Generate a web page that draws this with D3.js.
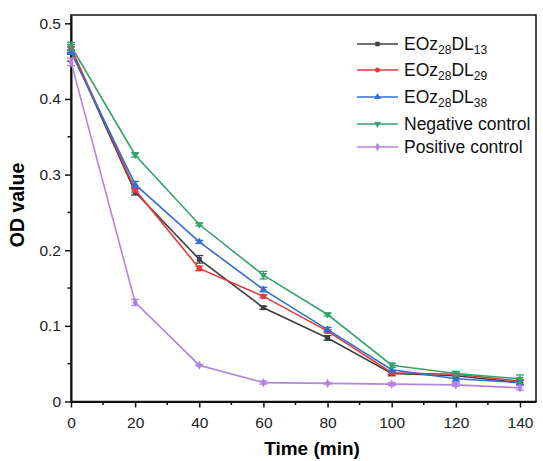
<!DOCTYPE html>
<html lang="en">
<head>
    <meta charset="UTF-8">
    <title>OD value vs time</title>
    <script src="https://d3js.org/d3.v7.min.js"></script>
    <style>
        body {
            margin: 0;
            padding: 0;
            background: #fff;
            font-family: Arial, "Liberation Sans", sans-serif;
        }
        .axis text {
            font-size: 15.5px;
            fill: #222;
        }
        .axis path, .axis line {
            stroke: #111;
        }
    </style>
</head>
<body>
    <svg id="chart" width="543" height="461"></svg>

    <script>
        // time points (min)
        const times = [0, 20, 40, 60, 80, 100, 120, 140];

        // series names and sub-scripted parts for legend
        const seriesNames = ["EOz28DL13", "EOz28DL29", "EOz28DL38", "Negative control", "Positive control"];

        // OD values
        const dl13 = [0.465, 0.277, 0.188, 0.124, 0.084, 0.037, 0.034, 0.025];
        const dl29 = [0.468, 0.280, 0.176, 0.139, 0.093, 0.038, 0.036, 0.027];
        const dl38 = [0.462, 0.287, 0.211, 0.148, 0.095, 0.042, 0.030, 0.025];
        const negCtrl = [0.470, 0.326, 0.234, 0.167, 0.115, 0.048, 0.037, 0.030];
        const posCtrl = [0.449, 0.131, 0.048, 0.025, 0.024, 0.023, 0.022, 0.018];

        // error bars (half length)
        const dl13Err = [0.004, 0.004, 0.005, 0.002, 0.003, 0.003, 0.003, 0.003];
        const dl29Err = [0.004, 0.003, 0.003, 0.002, 0.002, 0.002, 0.002, 0.002];
        const dl38Err = [0.003, 0.004, 0.002, 0.003, 0.003, 0.003, 0.004, 0.003];
        const negErr = [0.005, 0.003, 0.002, 0.005, 0.002, 0.003, 0.003, 0.005];
        const posErr = [0.005, 0.004, 0.001, 0.002, 0.001, 0.002, 0.002, 0.003];

        const xTicks = [0, 20, 40, 60, 80, 100, 120, 140];
        const yTicks = [0, 0.1, 0.2, 0.3, 0.4, 0.5];

        const colors = ["#404040", "#e23b3b", "#2f6fd6", "#33a36a", "#b482e2"];
        const symbols = [d3.symbolSquare, d3.symbolCircle, d3.symbolTriangle, d3.symbolTriangle, d3.symbolDiamond];
        const flips = [false, false, false, true, false];

        const series = [
            { vals: dl13, err: dl13Err },
            { vals: dl29, err: dl29Err },
            { vals: dl38, err: dl38Err },
            { vals: negCtrl, err: negErr },
            { vals: posCtrl, err: posErr }
        ];

        const svg = d3.select("#chart");

        const x = d3.scaleLinear().domain([0, 145]).range([71, 536]);
        const y = d3.scaleLinear().domain([0, 0.511]).range([401.5, 15]);

        // frame (top + right)
        svg.append("rect")
            .attr("x", x(0)).attr("y", y(0.511))
            .attr("width", x(145) - x(0)).attr("height", y(0) - y(0.511))
            .attr("fill", "none").attr("stroke", "#111").attr("stroke-width", 1.5);

        // minor ticks
        const xMinor = d3.range(10, 145, 20);
        const yMinor = d3.range(0.05, 0.51, 0.1);
        svg.append("g").selectAll("line").data(xMinor).join("line")
            .attr("x1", d => x(d)).attr("x2", d => x(d))
            .attr("y1", y(0)).attr("y2", y(0) + 3.5)
            .attr("stroke", "#111").attr("stroke-width", 1.5);
        svg.append("g").selectAll("line").data(yMinor).join("line")
            .attr("y1", d => y(d)).attr("y2", d => y(d))
            .attr("x1", x(0)).attr("x2", x(0) - 3.5)
            .attr("stroke", "#111").attr("stroke-width", 1.5);

        const xAxis = svg.append("g")
            .attr("class", "axis")
            .attr("transform", `translate(0,${y(0)})`)
            .call(d3.axisBottom(x).tickValues(xTicks).tickSize(6).tickPadding(6).tickSizeOuter(0));
        xAxis.select(".domain").attr("stroke-width", 2);
        xAxis.selectAll(".tick line").attr("stroke-width", 1.5);
        xAxis.selectAll("text").attr("dy", "0.95em");

        const yAxis = svg.append("g")
            .attr("class", "axis")
            .attr("transform", `translate(${x(0)},0)`)
            .call(d3.axisLeft(y).tickValues(yTicks).tickSize(6).tickPadding(4).tickSizeOuter(0)
                .tickFormat(d => d === 0 ? "0" : d3.format(".1f")(d)));
        yAxis.select(".domain").attr("stroke-width", 2);
        yAxis.selectAll(".tick line").attr("stroke-width", 1.5);

        // axis titles
        svg.append("text")
            .attr("x", 312).attr("y", 455)
            .attr("text-anchor", "middle")
            .style("font-size", "19px").style("font-weight", "bold")
            .text("Time (min)");
        svg.append("text")
            .attr("transform", "translate(24,205) rotate(-90)")
            .attr("text-anchor", "middle")
            .style("font-size", "19.5px").style("font-weight", "bold")
            .text("OD value");

        const line = d3.line()
            .x((d, i) => x(times[i]))
            .y(d => y(d));

        series.forEach((s, k) => {
            const g = svg.append("g");
            g.append("path")
                .datum(s.vals)
                .attr("d", line)
                .attr("fill", "none")
                .attr("stroke", colors[k])
                .attr("stroke-width", 1.6);

            const eb = g.selectAll(".eb").data(s.vals).join("g");
            eb.append("line")
                .attr("x1", (d, i) => x(times[i])).attr("x2", (d, i) => x(times[i]))
                .attr("y1", (d, i) => y(d - s.err[i])).attr("y2", (d, i) => y(d + s.err[i]))
                .attr("stroke", colors[k]).attr("stroke-width", 1.3);
            [-1, 1].forEach(sg => {
                eb.append("line")
                    .attr("x1", (d, i) => x(times[i]) - 4).attr("x2", (d, i) => x(times[i]) + 4)
                    .attr("y1", (d, i) => y(d + sg * s.err[i])).attr("y2", (d, i) => y(d + sg * s.err[i]))
                    .attr("stroke", colors[k]).attr("stroke-width", 1.3);
            });

            g.selectAll(".mk").data(s.vals).join("path")
                .attr("d", d3.symbol().type(symbols[k]).size(k === 1 ? 26 : 24))
                .attr("transform", (d, i) => `translate(${x(times[i])},${y(d)})` + (flips[k] ? " rotate(180)" : ""))
                .attr("fill", colors[k]);
        });

        // legend
        const legendY = [44, 70, 97, 124, 147];
        const legend = svg.append("g");
        seriesNames.forEach((name, k) => {
            const ly = legendY[k];
            legend.append("line")
                .attr("x1", 357).attr("x2", 398)
                .attr("y1", ly).attr("y2", ly)
                .attr("stroke", colors[k]).attr("stroke-width", 1.6);
            legend.append("path")
                .attr("d", d3.symbol().type(symbols[k]).size(20))
                .attr("transform", `translate(377.5,${ly})` + (flips[k] ? " rotate(180)" : ""))
                .attr("fill", colors[k]);

            const t = legend.append("text")
                .attr("x", 404).attr("y", ly + 6)
                .style("font-size", "17.5px")
                .attr("fill", "#111");
            const m = name.match(/^EOz(\d+)DL(\d+)$/);
            if (m) {
                t.append("tspan").text("EOz");
                t.append("tspan").attr("dy", 4).style("font-size", "12px").text(m[1]);
                t.append("tspan").attr("dy", -4).text("DL");
                t.append("tspan").attr("dy", 4).style("font-size", "12px").text(m[2]);
            } else {
                t.text(name);
            }
        });
    </script>
</body>
</html>
